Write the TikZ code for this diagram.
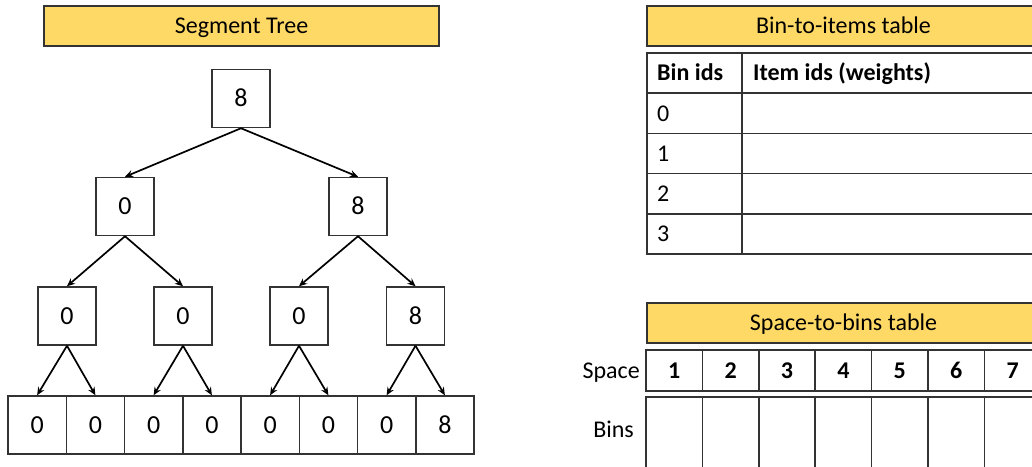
\documentclass[tikz,border=0pt]{standalone}
\usepackage{fontspec}
\setmainfont{Carlito}
\usetikzlibrary{arrows.meta}
\definecolor{baryellow}{HTML}{FFD966}
\definecolor{linegray}{HTML}{333333}

\tikzset{
  treebox/.style={draw=linegray, line width=1.5pt, minimum width=58pt, minimum height=58pt, inner sep=0pt, text height=16.5pt, text depth=0pt, font=\fontsize{26}{30}\selectfont},
  titlebar/.style={draw=linegray, fill=baryellow, line width=1.5pt, inner sep=0pt, minimum height=40pt, text height=15.5pt, text depth=0pt, font=\fontsize{24}{28}\selectfont},
  treearrow/.style={-{Stealth[length=8pt,width=7pt]}, line width=1.7pt},
  tabline/.style={draw=linegray, line width=1.5pt},
  tabtext/.style={inner sep=0pt, text height=15.5pt, text depth=0pt, font=\fontsize{24}{28}\selectfont},
}

\begin{document}
\begin{tikzpicture}[x=1pt,y=-1pt]
		%%%%% FRAME %%%%%
		\useasboundingbox (0,0) rectangle (1032,466);
		\clip (0,0) rectangle (1032,466);
		
		%%%%% SEGMENT TREE %%%%%
		\node[titlebar, minimum width=395pt] (treetitle) at (241.5,26) {Segment Tree};
		
		\node[treebox] (root) at (241,98.5) {8};
		
		\node[treebox] (lA) at (125,206.5) {0};
		\node[treebox] (lB) at (358,206.5) {8};
		
		\node[treebox] (mA) at (67,316) {0};
		\node[treebox] (mB) at (183,316) {0};
		\node[treebox] (mC) at (299,316) {0};
		\node[treebox] (mD) at (415.5,316) {8};
		
		\foreach \v [count=\i] in {0,0,0,0,0,0,0,8}
			\node[treebox, minimum width=58.25pt] (leaf\i) at ({8+58.25*(\i-0.5)},425) {\v};
		
		\draw[treearrow] (root.south) -- (lA.north);
		\draw[treearrow] (root.south) -- (lB.north);
		\draw[treearrow] (lA.south) -- (mA.north);
		\draw[treearrow] (lA.south) -- (mB.north);
		\draw[treearrow] (lB.south) -- (mC.north);
		\draw[treearrow] (lB.south) -- (mD.north);
		\draw[treearrow] (mA.south) -- (leaf1.north);
		\draw[treearrow] (mA.south) -- (leaf2.north);
		\draw[treearrow] (mB.south) -- (leaf3.north);
		\draw[treearrow] (mB.south) -- (leaf4.north);
		\draw[treearrow] (mC.south) -- (leaf5.north);
		\draw[treearrow] (mC.south) -- (leaf6.north);
		\draw[treearrow] (mD.south) -- (leaf7.north);
		\draw[treearrow] (mD.south) -- (leaf8.north);
		
		%%%%% BIN-TO-ITEMS TABLE %%%%%
		\node[titlebar, minimum width=393pt] (bintitle) at (843.5,26) {Bin-to-items table};
		
		\draw[tabline] (647,53) rectangle (1045,254);
		\foreach \y in {93.2,133.4,173.6,213.8}
			\draw[tabline] (647,\y) -- (1045,\y);
		\draw[tabline] (742,53) -- (742,254);
		
		\node[tabtext, anchor=west, font=\fontsize{24}{28}\selectfont\bfseries] (binhead) at (657,73.1) {Bin ids};
		\node[tabtext, anchor=west, font=\fontsize{24}{28}\selectfont\bfseries] (itemhead) at (753,73.1) {Item ids (weights)};
		\foreach \b in {0,1,2,3}
			\node[tabtext, anchor=west] (bin\b) at (657,{113.3+40.2*\b}) {\b};
		
		%%%%% SPACE-TO-BINS TABLE %%%%%
		\node[titlebar, minimum width=393pt] (spacetitle) at (843.5,323) {Space-to-bins table};
		
		\draw[tabline] (646,350) rectangle (1045,391);
		\draw[tabline] (646,397) rectangle (1045,480);
		\foreach \k in {1,...,7} {
			\draw[tabline] ({646+56.4*\k},350) -- ({646+56.4*\k},391);
			\draw[tabline] ({646+56.4*\k},397) -- ({646+56.4*\k},480);
			\node[tabtext, font=\fontsize{24}{28}\selectfont\bfseries] (space\k) at ({646+56.4*(\k-0.5)},370.5) {\k};
		}
		
		\node[tabtext, anchor=east] (spacelabel) at (640,370.5) {Space};
		\node[tabtext, anchor=east] (binslabel) at (634,430) {Bins};
		
		%%%%% END %%%%%
	\end{tikzpicture}
\end{document}
